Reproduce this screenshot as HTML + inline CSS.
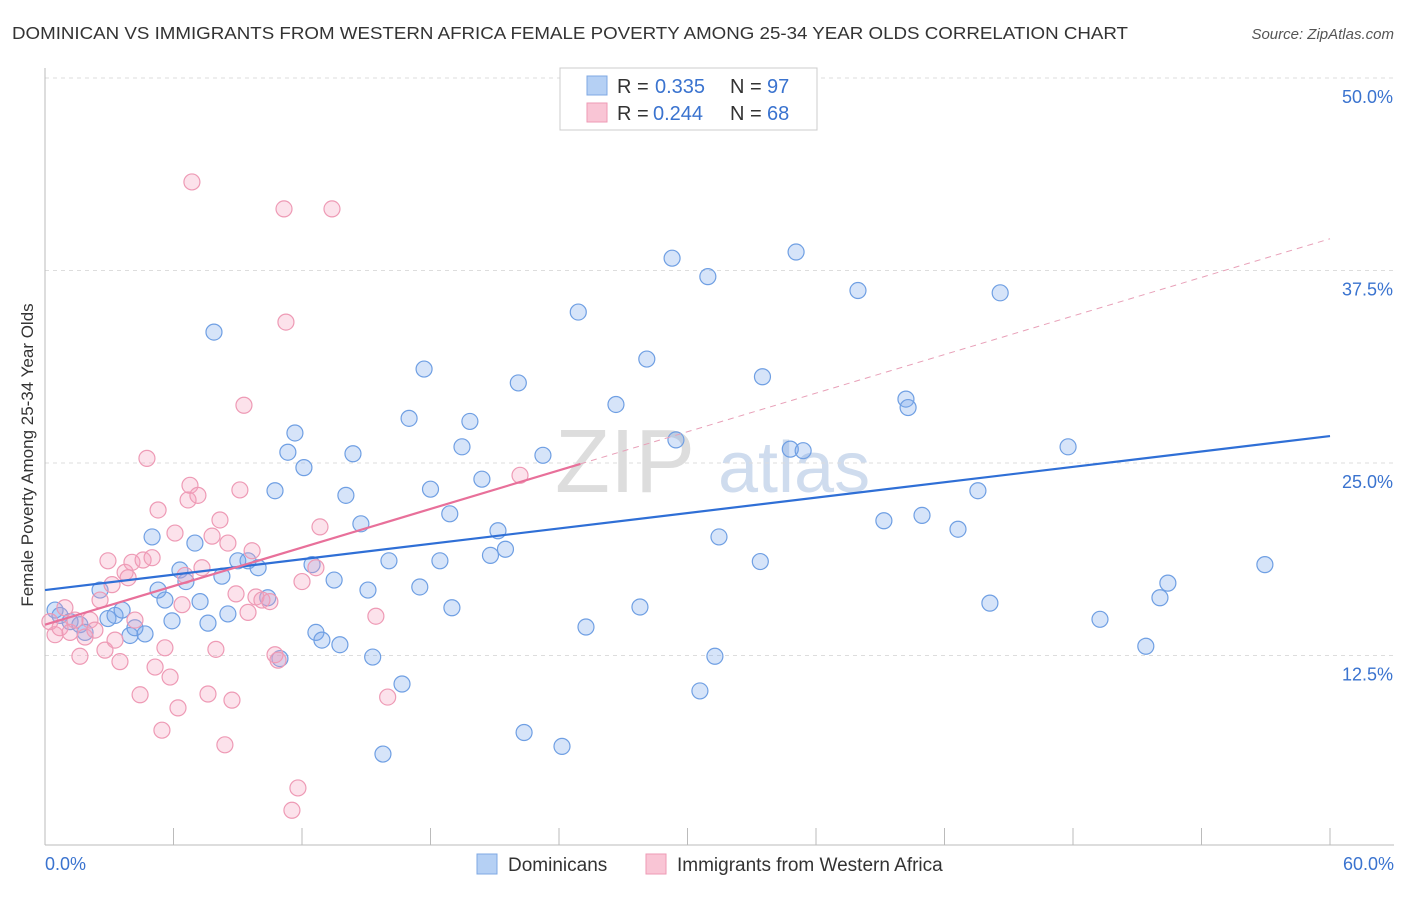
<!DOCTYPE html>
<html><head><meta charset="utf-8"><style>
body{margin:0;background:#fff;font-family:"Liberation Sans",sans-serif;}
svg text{font-family:"Liberation Sans",sans-serif;}
</style></head><body>
<svg id="c" width="1406" height="892">
<text x="12" y="39" font-size="17.5" fill="#333" textLength="1116" lengthAdjust="spacingAndGlyphs">DOMINICAN VS IMMIGRANTS FROM WESTERN AFRICA FEMALE POVERTY AMONG 25-34 YEAR OLDS CORRELATION CHART</text>
<text x="1394" y="39" font-size="15" fill="#555" font-style="italic" text-anchor="end">Source: ZipAtlas.com</text>
<text x="555" y="492" font-size="90" fill="#ddd" font-family="Liberation Serif">ZIP</text>
<text x="718" y="492" font-size="72" fill="#cfdcee">atlas</text>
<g id="grid"></g><g id="axes"></g><g id="marks"></g>
<text x="33" y="455" font-size="17" fill="#333" text-anchor="middle" transform="rotate(-90 33 455)">Female Poverty Among 25-34 Year Olds</text>
<g>
<rect x="560" y="68" width="257" height="62" fill="#fff" stroke="#ccc"/>
<rect x="587" y="76" width="20" height="19" fill="#b5d0f4" stroke="#7fa8e3"/>
<text x="617" y="93" font-size="20" fill="#333">R =</text>
<text x="655" y="93" font-size="20" fill="#3a73cf">0.335</text>
<text x="730" y="93" font-size="20" fill="#333">N =</text>
<text x="767" y="93" font-size="20" fill="#3a73cf">97</text>
<rect x="587" y="103" width="20" height="19" fill="#f9c5d5" stroke="#ee9ab5"/>
<text x="617" y="120" font-size="20" fill="#333">R =</text>
<text x="653" y="120" font-size="20" fill="#3a73cf">0.244</text>
<text x="730" y="120" font-size="20" fill="#333">N =</text>
<text x="767" y="120" font-size="20" fill="#3a73cf">68</text>
</g>
<g>
<rect x="477" y="854" width="20" height="20" fill="#b5d0f4" stroke="#7fa8e3"/>
<text x="508" y="871" font-size="19" fill="#333">Dominicans</text>
<rect x="646" y="854" width="20" height="20" fill="#f9c5d5" stroke="#ee9ab5"/>
<text x="677" y="871" font-size="19" fill="#333">Immigrants from Western Africa</text>
</g>
</svg>
<script>
const yTicks=[12.5,25,37.5,50];
const yTickLabels=["12.5%","25.0%","37.5%","50.0%"];
const xTickLabels=["0.0%","60.0%"];
const blueX=[.47,.7,1.17,1.63,1.87,2.57,2.94,3.27,3.6,3.97,4.2,4.67,5.0,5.28,5.6,5.93,6.3,6.58,7.0,7.24,7.61,7.89,8.26,8.54,9.0,9.48,9.95,10.4,10.74,10.97,11.34,11.67,12.09,12.47,12.65,12.93,13.5,13.77,14.05,14.38,14.75,15.08,15.3,16.06,16.67,15.78,17.0,17.5,17.7,18.0,18.44,18.9,19.0,19.47,19.84,20.4,20.8,21.15,21.5,22.1,22.37,23.25,24.14,24.9,25.26,26.66,27.78,28.1,29.46,29.28,30.58,30.95,31.28,31.47,33.4,33.5,34.8,35.07,35.4,37.96,39.17,40.2,40.3,40.95,42.63,43.56,44.12,44.6,47.77,49.26,51.4,52.06,52.43,56.96];
const blueY=[15.45,15.1,14.7,14.5,14.0,16.75,14.9,15.1,15.45,13.8,14.3,13.9,20.2,16.75,16.1,14.75,18.05,17.3,19.8,16.0,14.6,33.5,17.65,15.2,18.65,18.65,18.2,16.25,23.2,12.3,25.7,26.95,24.7,18.4,14.0,13.5,17.4,13.2,22.9,25.6,21.05,16.75,12.4,18.65,10.65,6.1,27.9,16.95,31.1,23.3,18.65,21.7,15.6,26.05,27.7,23.95,19.0,20.6,19.4,30.2,7.5,25.5,6.6,34.8,14.35,28.8,15.65,31.75,26.5,38.3,10.2,37.1,12.45,20.2,18.6,30.6,25.9,38.7,25.8,36.2,21.25,29.15,28.6,21.6,20.7,23.2,15.9,36.05,26.05,14.85,13.1,16.25,17.2,18.4];
const pinkX=[.23,.47,.7,.93,1.17,1.4,1.63,1.87,2.1,2.33,2.57,2.8,2.94,3.13,3.27,3.5,3.74,3.88,4.06,4.2,4.44,4.58,4.76,5.0,5.14,5.28,5.46,5.6,5.84,6.07,6.21,6.4,6.54,6.68,6.77,6.86,7.14,7.33,7.61,7.8,7.98,8.17,8.4,8.54,8.73,8.92,9.1,9.29,9.48,9.67,9.85,10.13,10.5,10.74,10.88,11.16,11.25,11.53,11.81,12.0,12.65,12.84,13.4,15.45,16.0,22.18];
const pinkY=[14.7,13.85,14.3,15.6,14.0,14.8,12.45,13.7,14.8,14.15,16.1,12.85,18.65,17.1,13.5,12.1,17.9,17.55,18.55,14.8,9.95,18.7,25.3,18.85,11.75,21.95,7.65,13.0,11.1,20.45,9.1,15.8,17.7,22.6,23.55,43.25,22.9,18.2,10.0,20.25,12.9,21.3,6.7,19.8,9.6,16.5,23.25,28.75,15.3,19.3,16.3,16.1,16.0,12.55,12.2,41.5,34.15,2.45,3.9,17.3,18.2,20.85,41.5,15.05,9.8,24.2];
const blueLine=[16.75,26.75];
const pinkLine=[14.5,39.56];
const pinkSolidEnd=25;
const NS="http://www.w3.org/2000/svg";
const X=v=>45+v/60*1285, Y=v=>848-v/50*770;
function mk(p,t,a){const e=document.createElementNS(NS,t);for(const k in a)e.setAttribute(k,a[k]);p.appendChild(e);return e;}
const grid=document.getElementById('grid'),axes=document.getElementById('axes'),marks=document.getElementById('marks');
yTicks.forEach((t,i)=>{
 const l=mk(grid,'line',{x1:45,x2:1394,y1:Y(t),y2:Y(t),stroke:'#ddd','stroke-dasharray':'4,4'});
 
 
 const tx=mk(axes,'text',{x:1393,y:Y(t)+25,'font-size':18,fill:'#3a73cf','text-anchor':'end'});
 tx.textContent=yTickLabels[i];
 
 
});
const ax=mk(axes,'line',{x1:45,x2:1394,y1:845,y2:845,stroke:'#bbb'});


const ay=mk(axes,'line',{x1:45,x2:45,y1:68,y2:845,stroke:'#bbb'});


for(let i=0;i<=10;i++){const tk=mk(axes,'line',{x1:X(i*6),x2:X(i*6),y1:828,y2:845,stroke:'#bbb'});
 
 }
[[0,45,'start'],[1,1394,'end']].forEach(([i,x,a])=>{const t=mk(axes,'text',{x:x,y:870,'font-size':18,fill:'#3a73cf','text-anchor':a});t.textContent=xTickLabels[i];
 
 });
function dots(xs,ys,fill,stroke,name){xs.forEach((x,i)=>{const c=mk(marks,'circle',{cx:X(x),cy:Y(ys[i]),r:8,fill:fill,stroke:stroke,'stroke-width':1.2});
 
 });}
dots(blueX,blueY,'rgba(120,165,235,0.3)','#6f9fe3','dominican-point');
dots(pinkX,pinkY,'rgba(245,160,190,0.3)','#ee9ab5','western-africa-point');
const bl=mk(marks,'line',{x1:X(0),y1:Y(blueLine[0]),x2:X(60),y2:Y(blueLine[1]),stroke:'#2f6fd6','stroke-width':2.2});


const pv=x=>pinkLine[0]+(pinkLine[1]-pinkLine[0])*x/60;
const pl=mk(marks,'line',{x1:X(0),y1:Y(pv(0)),x2:X(pinkSolidEnd),y2:Y(pv(pinkSolidEnd)),stroke:'#e8709a','stroke-width':2.2});


const pd=mk(marks,'line',{x1:X(pinkSolidEnd),y1:Y(pv(pinkSolidEnd)),x2:X(60),y2:Y(pv(60)),stroke:'#e8a0b8','stroke-width':1,'stroke-dasharray':'6,5'});


</script>
</body></html>
